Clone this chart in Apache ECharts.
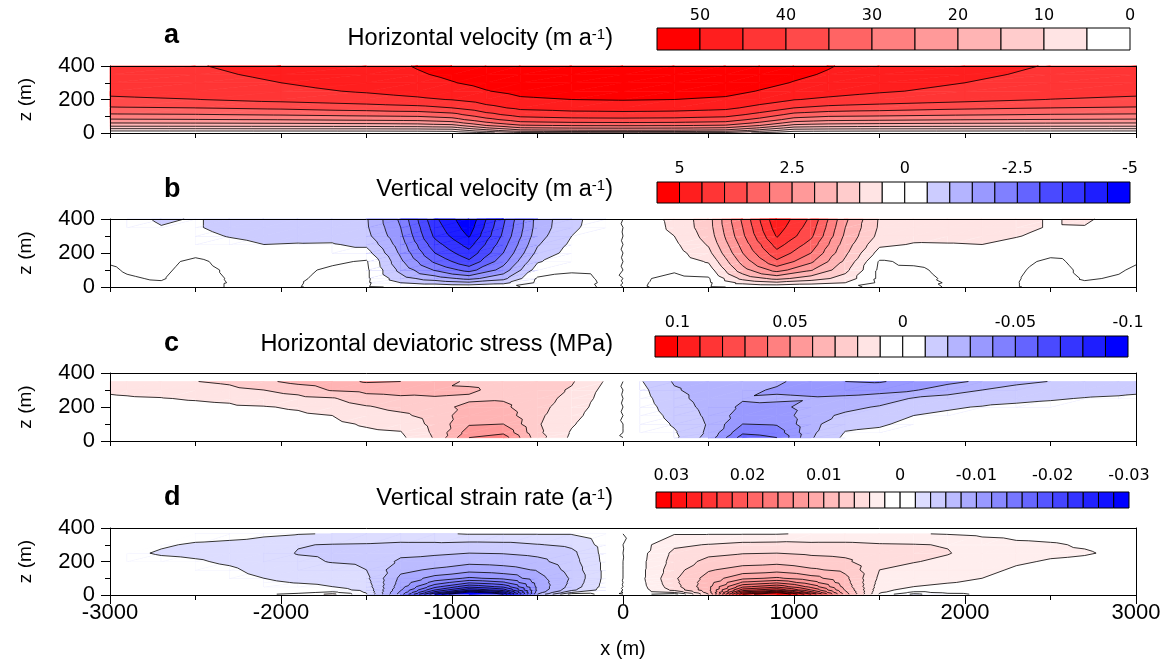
<!DOCTYPE html>
<html>
<head>
<meta charset="utf-8">
<title>Glacier fields</title>
<script src="https://cdn.jsdelivr.net/npm/echarts@6/dist/echarts.min.js"></script>
<style>
  html, body { margin: 0; padding: 0; background: #fff; }
  #main { width: 1171px; height: 666px; }
</style>
</head>
<body>
<div id="main"></div>
<script>
const FONT = '"Liberation Sans", Arial, Helvetica, sans-serif';

// a: horizontal velocity (m a-1), rows are z levels
const xsA = [-3000, -2500, -2000, -1500, -1200, -1000, -800, -600, -300, 0, 300, 600, 800, 1000, 1200, 1500, 2000, 2500, 3000];
const zsA = [0, 5, 15, 30, 45, 60, 80, 110, 150, 200, 250, 300, 350, 400];
const uA = [
  [0, 0, 0, 0, 0, 0, 4, 8, 8.8, 9, 8.8, 8, 4, 0, 0, 0, 0, 0, 0],
  [2.5, 2.5, 2.5, 2.6, 2.7, 3, 7, 11.5, 12.3, 12.5, 12.3, 11.5, 7, 3, 2.7, 2.6, 2.5, 2.5, 2.5],
  [6, 6.1, 6.2, 6.3, 6.5, 7, 13, 18.5, 19.3, 19.5, 19.3, 18.5, 13, 7, 6.5, 6.3, 6.2, 6.1, 6],
  [11.5, 11.6, 11.8, 12, 12.3, 13, 19.5, 24.5, 25.3, 25.5, 25.3, 24.5, 19.5, 13, 12.3, 12, 11.8, 11.6, 11.5],
  [16.5, 16.6, 16.8, 17, 17.5, 18.5, 25, 29.5, 30.3, 30.5, 30.3, 29.5, 25, 18.5, 17.5, 17, 16.8, 16.6, 16.5],
  [20, 20.2, 20.5, 21, 21.5, 23, 29, 33.5, 34.3, 34.5, 34.3, 33.5, 29, 23, 21.5, 21, 20.5, 20.2, 20],
  [24.5, 24.8, 25.2, 26, 26.5, 28, 33.5, 37.5, 38.4, 38.6, 38.4, 37.5, 33.5, 28, 26.5, 26, 25.2, 24.8, 24.5],
  [29.5, 29.8, 30.5, 31.5, 32, 33.5, 38.5, 42, 43, 43.3, 43, 42, 38.5, 33.5, 32, 31.5, 30.5, 29.8, 29.5],
  [34.5, 35, 36, 37.5, 38.5, 40, 43.5, 46, 46.8, 47, 46.8, 46, 43.5, 40, 38.5, 37.5, 36, 35, 34.5],
  [39, 39.9, 41.5, 43, 44.2, 45.2, 47.3, 49.3, 50, 50.3, 50, 49.3, 47.3, 45.2, 44.2, 43, 41.5, 39.9, 39],
  [41.5, 42.5, 43.8, 45.5, 46.8, 48, 49.8, 51.3, 52, 52.2, 52, 51.3, 49.8, 48, 46.8, 45.5, 43.8, 42.5, 41.5],
  [42.5, 43.6, 45, 46.8, 48.5, 49.8, 51.2, 52.4, 53, 53.3, 53, 52.4, 51.2, 49.8, 48.5, 46.8, 45, 43.6, 42.5],
  [43.3, 44.3, 45.7, 47.5, 49.6, 50.8, 52, 53, 53.7, 54, 53.7, 53, 52, 50.8, 49.6, 47.5, 45.7, 44.3, 43.3],
  [43.7, 44.8, 46.2, 48, 50.3, 51.5, 52.5, 53.3, 54, 54.3, 54, 53.3, 52.5, 51.5, 50.3, 48, 46.2, 44.8, 43.7]
];

// b, c, d share one x grid
const xsB = [-3000, -2900, -2700, -2500, -2300, -2100, -1900, -1700, -1500, -1300, -1100, -900, -700, -500, -300, -100,
  100, 300, 500, 700, 900, 1100, 1300, 1500, 1700, 1900, 2100, 2300, 2500, 2700, 2900, 3000];

// b: vertical velocity (m a-1)
const zsB = [0, 25, 50, 100, 150, 200, 250, 300, 350, 400];
const wB = [
  [0.06, 0.04, 0.02, 0.05, -0.01, -0.02, -0.01, 0.05, 0.05, -0.05, -0.05, -0.1, -0.05, 0.05, 0.08, -0.03,
   0.03, -0.08, -0.05, 0.05, 0.1, 0.05, 0.05, -0.05, -0.05, 0.01, 0.02, 0.01, -0.05, -0.02, -0.04, -0.06],
  [0.07, 0.04, 0.02, 0.1, -0.01, -0.03, -0.02, 0.1, 0.08, -0.5, -0.7, -0.9, -0.65, 0.08, 0.12, -0.04,
   0.04, -0.12, -0.08, 0.65, 0.9, 0.7, 0.5, -0.08, -0.1, 0.02, 0.03, 0.01, -0.1, -0.02, -0.04, -0.07],
  [0.06, 0.02, -0.02, 0.12, -0.02, -0.06, -0.05, 0.12, 0.1, -0.8, -1.25, -1.65, -1.15, 0.05, 0.1, -0.05,
   0.05, -0.1, -0.05, 1.15, 1.65, 1.25, 0.8, -0.1, -0.12, 0.05, 0.06, 0.02, -0.12, 0.02, -0.02, -0.06],
  [0.03, -0.02, -0.06, 0.12, -0.05, -0.12, -0.1, 0.08, 0.1, -1.15, -2.05, -2.7, -1.8, -0.25, -0.05, -0.08,
   0.08, 0.05, 0.25, 1.8, 2.7, 2.05, 1.15, -0.1, -0.08, 0.1, 0.12, 0.05, -0.12, 0.06, 0.02, -0.03],
  [-0.02, -0.05, -0.1, 0.08, -0.12, -0.2, -0.18, -0.08, 0.05, -1.4, -2.6, -3.4, -2.2, -0.55, -0.2, -0.1,
   0.1, 0.2, 0.55, 2.2, 3.4, 2.6, 1.4, -0.05, 0.08, 0.18, 0.2, 0.12, -0.08, 0.1, 0.05, 0.02],
  [-0.08, -0.1, -0.15, -0.1, -0.25, -0.32, -0.3, -0.3, -0.3, -1.6, -3.0, -3.85, -2.5, -0.85, -0.3, -0.12,
   0.12, 0.3, 0.85, 2.5, 3.85, 3.0, 1.6, 0.3, 0.3, 0.3, 0.32, 0.25, 0.1, 0.15, 0.1, 0.08],
  [-0.15, -0.15, -0.2, -0.3, -0.4, -0.5, -0.48, -0.47, -0.6, -1.75, -3.3, -4.2, -2.7, -1.05, -0.4, -0.15,
   0.15, 0.4, 1.05, 2.7, 4.2, 3.3, 1.75, 0.6, 0.47, 0.48, 0.5, 0.4, 0.3, 0.2, 0.15, 0.15],
  [-0.2, -0.22, -0.3, -0.4, -0.52, -0.6, -0.6, -0.62, -0.85, -1.9, -3.6, -4.55, -2.9, -1.2, -0.5, -0.18,
   0.18, 0.5, 1.2, 2.9, 4.55, 3.6, 1.9, 0.85, 0.62, 0.6, 0.6, 0.52, 0.4, 0.3, 0.22, 0.2],
  [-0.25, -0.3, -0.48, -0.47, -0.6, -0.65, -0.68, -0.72, -0.93, -2.0, -3.75, -4.75, -3.0, -1.28, -0.6, -0.2,
   0.2, 0.6, 1.28, 3.0, 4.75, 3.75, 2.0, 0.93, 0.72, 0.68, 0.65, 0.6, 0.47, 0.48, 0.3, 0.25],
  [-0.3, -0.35, -0.56, -0.47, -0.6, -0.65, -0.7, -0.75, -0.95, -2.1, -3.9, -4.9, -3.1, -1.3, -0.62, -0.25,
   0.25, 0.62, 1.3, 3.1, 4.9, 3.9, 2.1, 0.95, 0.75, 0.7, 0.65, 0.6, 0.47, 0.56, 0.35, 0.3]
];

// c: horizontal deviatoric stress (MPa)
const zsC = [20, 50, 100, 150, 200, 250, 300, 350];
const sC = [
  [0.002, 0.002, 0.003, 0.0035, 0.004, 0.0045, 0.005, 0.006, 0.007, 0.008, 0.021, 0.05, 0.055, 0.024, 0.008, 0.002,
   -0.002, -0.008, -0.024, -0.055, -0.05, -0.021, -0.008, -0.007, -0.006, -0.005, -0.0045, -0.004, -0.0035, -0.003, -0.002, -0.002],
  [0.003, 0.003, 0.0035, 0.004, 0.0045, 0.005, 0.0055, 0.0065, 0.0085, 0.0095, 0.022, 0.045, 0.048, 0.022, 0.009, 0.003,
   -0.003, -0.009, -0.022, -0.048, -0.045, -0.022, -0.0095, -0.0085, -0.0065, -0.0055, -0.005, -0.0045, -0.004, -0.0035, -0.003, -0.003],
  [0.004, 0.004, 0.0045, 0.005, 0.0055, 0.006, 0.0068, 0.008, 0.011, 0.013, 0.023, 0.039, 0.04, 0.021, 0.011, 0.003,
   -0.003, -0.011, -0.021, -0.04, -0.039, -0.023, -0.013, -0.011, -0.008, -0.0068, -0.006, -0.0055, -0.005, -0.0045, -0.004, -0.004],
  [0.005, 0.0052, 0.006, 0.0065, 0.007, 0.0075, 0.0085, 0.01, 0.015, 0.018, 0.024, 0.036, 0.035, 0.022, 0.013, 0.004,
   -0.004, -0.013, -0.022, -0.035, -0.036, -0.024, -0.018, -0.015, -0.01, -0.0085, -0.0075, -0.007, -0.0065, -0.006, -0.0052, -0.005],
  [0.007, 0.0072, 0.0078, 0.0082, 0.0088, 0.0095, 0.011, 0.014, 0.019, 0.023, 0.026, 0.033, 0.032, 0.023, 0.015, 0.005,
   -0.005, -0.015, -0.023, -0.032, -0.033, -0.026, -0.023, -0.019, -0.014, -0.011, -0.0095, -0.0088, -0.0082, -0.0078, -0.0072, -0.007],
  [0.009, 0.0093, 0.0097, 0.0106, 0.0115, 0.0145, 0.017, 0.019, 0.026, 0.028, 0.029, 0.028, 0.029, 0.024, 0.017, 0.006,
   -0.006, -0.017, -0.024, -0.029, -0.028, -0.029, -0.028, -0.026, -0.019, -0.017, -0.0145, -0.0115, -0.0106, -0.0097, -0.0093, -0.009],
  [0.011, 0.0115, 0.0125, 0.0145, 0.017, 0.02, 0.024, 0.031, 0.033, 0.034, 0.033, 0.032, 0.026, 0.024, 0.019, 0.007,
   -0.007, -0.019, -0.024, -0.026, -0.032, -0.033, -0.034, -0.033, -0.031, -0.024, -0.02, -0.017, -0.0145, -0.0125, -0.0115, -0.011],
  [0.013, 0.014, 0.016, 0.0198, 0.022, 0.028, 0.033, 0.036, 0.041, 0.04, 0.038, 0.027, 0.025, 0.024, 0.021, 0.009,
   -0.009, -0.021, -0.024, -0.025, -0.027, -0.038, -0.04, -0.041, -0.036, -0.033, -0.028, -0.022, -0.0198, -0.016, -0.014, -0.013]
];

// d: vertical strain rate (a-1)
const zsD = [5, 15, 30, 50, 75, 100, 150, 200, 250, 300, 365];
const eD = [
  [-0.0001, -0.0002, -0.0002, -0.0002, -0.0003, -0.0003, 0.0005, 0.0025, -0.0018, -0.011, -0.024, -0.034, -0.028, -0.008, 0.001, -0.0005,
   0.0005, -0.001, 0.008, 0.028, 0.034, 0.024, 0.011, 0.0018, -0.0025, -0.0005, 0.0003, 0.0003, 0.0002, 0.0002, 0.0002, 0.0001],
  [-0.0001, -0.0002, -0.0003, -0.0004, -0.0005, -0.0006, -0.0005, 0.0005, -0.0022, -0.0105, -0.021, -0.029, -0.025, -0.009, -0.002, -0.0008,
   0.0008, 0.002, 0.009, 0.025, 0.029, 0.021, 0.0105, 0.0022, -0.0005, 0.0005, 0.0006, 0.0005, 0.0004, 0.0003, 0.0002, 0.0001],
  [-0.0002, -0.0003, -0.0004, -0.0005, -0.0007, -0.0009, -0.001, -0.0012, -0.0026, -0.0098, -0.018, -0.0235, -0.021, -0.0095, -0.0045, -0.001,
   0.001, 0.0045, 0.0095, 0.021, 0.0235, 0.018, 0.0098, 0.0026, 0.0012, 0.001, 0.0009, 0.0007, 0.0005, 0.0004, 0.0003, 0.0002],
  [-0.0002, -0.0004, -0.0005, -0.0006, -0.0009, -0.0013, -0.0015, -0.002, -0.003, -0.0092, -0.0153, -0.0194, -0.0175, -0.0095, -0.0052, -0.0012,
   0.0012, 0.0052, 0.0095, 0.0175, 0.0194, 0.0153, 0.0092, 0.003, 0.002, 0.0015, 0.0013, 0.0009, 0.0006, 0.0005, 0.0004, 0.0002],
  [-0.0003, -0.0004, -0.0006, -0.0008, -0.0011, -0.0017, -0.0021, -0.0024, -0.0033, -0.0088, -0.0128, -0.0156, -0.0143, -0.0092, -0.0055, -0.0013,
   0.0013, 0.0055, 0.0092, 0.0143, 0.0156, 0.0128, 0.0088, 0.0033, 0.0024, 0.0021, 0.0017, 0.0011, 0.0008, 0.0006, 0.0004, 0.0003],
  [-0.0003, -0.0005, -0.0008, -0.001, -0.0013, -0.002, -0.0025, -0.0028, -0.0036, -0.0085, -0.0108, -0.0123, -0.0115, -0.0088, -0.0057, -0.0014,
   0.0014, 0.0057, 0.0088, 0.0115, 0.0123, 0.0108, 0.0085, 0.0036, 0.0028, 0.0025, 0.002, 0.0013, 0.001, 0.0008, 0.0005, 0.0003],
  [-0.0004, -0.0007, -0.001, -0.0013, -0.0017, -0.0026, -0.0031, -0.0034, -0.004, -0.0075, -0.0083, -0.0092, -0.0088, -0.0078, -0.0052, -0.0014,
   0.0014, 0.0052, 0.0078, 0.0088, 0.0092, 0.0083, 0.0075, 0.004, 0.0034, 0.0031, 0.0026, 0.0017, 0.0013, 0.001, 0.0007, 0.0004],
  [-0.0006, -0.001, -0.0015, -0.0018, -0.0023, -0.003, -0.0036, -0.0041, -0.0043, -0.0064, -0.0068, -0.0074, -0.0072, -0.0066, -0.0048, -0.0014,
   0.0014, 0.0048, 0.0066, 0.0072, 0.0074, 0.0068, 0.0064, 0.0043, 0.0041, 0.0036, 0.003, 0.0023, 0.0018, 0.0015, 0.001, 0.0006],
  [-0.0012, -0.0016, -0.0022, -0.0024, -0.0027, -0.0032, -0.0041, -0.0043, -0.0045, -0.0055, -0.0057, -0.006, -0.0059, -0.0055, -0.0045, -0.0013,
   0.0013, 0.0045, 0.0055, 0.0059, 0.006, 0.0057, 0.0055, 0.0045, 0.0043, 0.0041, 0.0032, 0.0027, 0.0024, 0.0022, 0.0016, 0.0012],
  [-0.001, -0.0013, -0.0018, -0.0022, -0.0024, -0.003, -0.0039, -0.0041, -0.0042, -0.0045, -0.0045, -0.0047, -0.0046, -0.0041, -0.0036, -0.0012,
   0.0012, 0.0036, 0.0041, 0.0046, 0.0047, 0.0045, 0.0045, 0.0042, 0.0041, 0.0039, 0.003, 0.0024, 0.0022, 0.0018, 0.0013, 0.001],
  [-0.0006, -0.0008, -0.0011, -0.0013, -0.0014, -0.0016, -0.0019, -0.0021, -0.0022, -0.0023, -0.0022, -0.0019, -0.0019, -0.0019, -0.0019, -0.0008,
   0.0008, 0.0019, 0.0019, 0.0019, 0.0019, 0.0022, 0.0023, 0.0022, 0.0021, 0.0019, 0.0016, 0.0014, 0.0013, 0.0011, 0.0008, 0.0006]
];

// contour levels (ascending) and band colours (one more than levels)
const levelsA = [5, 10, 15, 20, 25, 30, 35, 40, 45, 50];
const levelsB = [-4.5, -4, -3.5, -3, -2.5, -2, -1.5, -1, -0.5, 0, 0.5, 1, 1.5, 2, 2.5, 3, 3.5, 4, 4.5, 5];
const levelsC = [-0.09, -0.08, -0.07, -0.06, -0.05, -0.04, -0.03, -0.02, -0.01, 0, 0.01, 0.02, 0.03, 0.04, 0.05, 0.06, 0.07, 0.08, 0.09, 0.1];
const levelsD = [-0.028, -0.026, -0.024, -0.022, -0.02, -0.018, -0.016, -0.014, -0.012, -0.01, -0.008, -0.006, -0.004, -0.002, 0,
  0.002, 0.004, 0.006, 0.008, 0.01, 0.012, 0.014, 0.016, 0.018, 0.02, 0.022, 0.024, 0.026, 0.028, 0.03];

const colorsA = ['#ffffff', '#ffe4e4', '#ffcccc', '#ffb4b4', '#ff9999', '#ff8080', '#ff6464', '#ff4a4a', '#ff3535', '#ff1e1e', '#ff0000'];
const colorsBC = ['#0000ff', '#1e1eff', '#3535ff', '#4a4aff', '#6464ff', '#8080ff', '#9999ff', '#b4b4ff', '#ccccff', '#ffffff', '#ffffff',
  '#ffe4e4', '#ffcccc', '#ffb4b4', '#ff9999', '#ff8080', '#ff6464', '#ff4a4a', '#ff3535', '#ff1e1e', '#ff0000'];
const colorsD = ['#0000ff', '#1111ff', '#2222ff', '#3333ff', '#4444ff', '#5555ff', '#6666ff', '#7777ff', '#8888ff', '#9999ff', '#aaaaff',
  '#bbbbff', '#ccccff', '#ddddff', '#ffffff', '#ffffff', '#ffeeee', '#ffdddd', '#ffcccc', '#ffbbbb', '#ffaaaa', '#ff9999', '#ff8888',
  '#ff7777', '#ff6666', '#ff5555', '#ff4444', '#ff3333', '#ff2222', '#ff1111', '#ff0000'];

// colour bar tick labels (at box edges, counted from the left end)
const cbTicksA = [1, 3, 5, 7, 9, 11];
const cbLabelsA = ['50', '40', '30', '20', '10', '0'];
const cbTicksB = [1, 6, 11, 16, 21];
const cbLabelsB = ['5', '2.5', '0', '-2.5', '-5'];
const cbLabelsC = ['0.1', '0.05', '0', '-0.05', '-0.1'];
const cbTicksD = [1, 6, 11, 16, 21, 26, 31];
const cbLabelsD = ['0.03', '0.02', '0.01', '0', '-0.01', '-0.02', '-0.03'];

const panels = [
  { xs: xsA, zs: zsA, v: uA, levels: levelsA, colors: colorsA, top: 66, height: 67,
    letter: 'a', title: '{n|Horizontal velocity (m a}{s|-1}{n|)}', titleTop: 27, letterTop: 22,
    cb: { left: 657, top: 28, height: 22, ticks: cbTicksA, labels: cbLabelsA, margin: 4 } },
  { xs: xsB, zs: zsB, v: wB, levels: levelsB, colors: colorsBC, top: 219, height: 68,
    letter: 'b', title: '{n|Vertical velocity (m a}{s|-1}{n|)}', titleTop: 178, letterTop: 176,
    cb: { left: 657, top: 182, height: 21, ticks: cbTicksB, labels: cbLabelsB, margin: 5 } },
  { xs: xsB, zs: zsC, v: sC, levels: levelsC, colors: colorsBC, top: 373, height: 68,
    letter: 'c', title: '{n|Horizontal deviatoric stress (MPa)}', titleTop: 333, letterTop: 330,
    cb: { left: 655, top: 336, height: 21, ticks: cbTicksB, labels: cbLabelsC, margin: 5 } },
  { xs: xsB, zs: zsD, v: eD, levels: levelsD, colors: colorsD, top: 528, height: 67,
    letter: 'd', title: '{n|Vertical strain rate (a}{s|-1}{n|)}', titleTop: 487, letterTop: 484,
    cb: { left: 656, top: 492, height: 16, ticks: cbTicksD, labels: cbLabelsD, margin: 8 } }
];

function band(levels, v) {
  let k = 0;
  while (k < levels.length && v >= levels[k]) k++;
  return k;
}

// part of a polygon where value >= t (values vary linearly along edges)
function clipAbove(pts, t) {
  const out = [];
  for (let k = 0; k < pts.length; k++) {
    const a = pts[k], b = pts[(k + 1) % pts.length];
    const ain = a[2] >= t, bin = b[2] >= t;
    if (ain) out.push(a);
    if (ain !== bin) {
      const f = (t - a[2]) / (b[2] - a[2]);
      out.push([a[0] + f * (b[0] - a[0]), a[1] + f * (b[1] - a[1]), t]);
    }
  }
  return out;
}

function poly(pts, col) {
  return {
    type: 'polygon',
    shape: { points: pts.map(q => [q[0], q[1]]) },
    style: { fill: col, stroke: col, lineWidth: 0.7 }
  };
}

function cellTriangles(p, api) {
  const i = api.value(2), j = api.value(3);
  const corner = (ii, jj) => {
    const c = api.coord([p.xs[ii], p.zs[jj]]);
    return [c[0], c[1], p.v[jj][ii]];
  };
  const a = corner(i, j), b = corner(i + 1, j), c = corner(i + 1, j + 1), d = corner(i, j + 1);
  return [[a, b, c], [a, c, d]];
}

function fillItem(p) {
  return function (params, api) {
    const children = [];
    cellTriangles(p, api).forEach(tri => {
      const vals = tri.map(q => q[2]);
      const lo = Math.min.apply(null, vals), hi = Math.max.apply(null, vals);
      let k = band(p.levels, lo);
      children.push(poly(tri, p.colors[k]));
      for (; k < p.levels.length && p.levels[k] <= hi; k++) {
        const part = clipAbove(tri, p.levels[k]);
        if (part.length > 2) children.push(poly(part, p.colors[k + 1]));
      }
    });
    return { type: 'group', children: children };
  };
}

function lineItem(p) {
  return function (params, api) {
    const children = [];
    cellTriangles(p, api).forEach(tri => {
      p.levels.forEach(t => {
        const pts = [];
        for (let k = 0; k < 3; k++) {
          const m = tri[k], n = tri[(k + 1) % 3];
          if ((m[2] >= t) !== (n[2] >= t)) {
            const f = (t - m[2]) / (n[2] - m[2]);
            pts.push([m[0] + f * (n[0] - m[0]), m[1] + f * (n[1] - m[1])]);
          }
        }
        if (pts.length === 2) {
          children.push({
            type: 'line',
            shape: { x1: pts[0][0], y1: pts[0][1], x2: pts[1][0], y2: pts[1][1] },
            style: { stroke: '#000', lineWidth: 0.8 }
          });
        }
      });
    });
    return { type: 'group', children: children };
  };
}

function barItem(cols) {
  return function (params, api) {
    const k = api.value(2);
    const p0 = api.coord([k, 1]), p1 = api.coord([k + 1, 0]);
    return {
      type: 'rect',
      shape: { x: p0[0], y: p0[1], width: p1[0] - p0[0], height: p1[1] - p0[1] },
      style: { fill: cols[k], stroke: '#000', lineWidth: 1 }
    };
  };
}

function cells(p) {
  const out = [];
  for (let j = 0; j < p.zs.length - 1; j++)
    for (let i = 0; i < p.xs.length - 1; i++)
      out.push([(p.xs[i] + p.xs[i + 1]) / 2, (p.zs[j] + p.zs[j + 1]) / 2, i, j]);
  return out;
}

const grid = [], xAxis = [], yAxis = [], series = [], title = [];
const axisLine = { show: true, onZero: false, lineStyle: { color: '#000', width: 1 } };

panels.forEach((p, k) => {
  grid[k] = { left: 110, top: p.top, width: 1026, height: p.height };
  grid[4 + k] = { left: p.cb.left, top: p.cb.top, width: 473, height: p.cb.height };
  const last = k === panels.length - 1;
  xAxis[k] = {
    type: 'value', gridIndex: k, min: -3000, max: 3000, interval: last ? 1000 : 500, z: 10,
    axisLine: axisLine,
    axisTick: { show: true, inside: false, length: last ? 9 : 5, lineStyle: { color: '#000' } },
    minorTick: { show: last, splitNumber: 2, length: 5, lineStyle: { color: '#000' } },
    axisLabel: { show: last, fontSize: 22, color: '#000', fontFamily: FONT, margin: 7, formatter: v => String(v) },
    splitLine: { show: false },
    name: last ? 'x (m)' : '', nameLocation: 'middle', nameGap: 44,
    nameTextStyle: { fontSize: 20, color: '#000', fontFamily: FONT }
  };
  xAxis[4 + k] = {
    type: 'value', gridIndex: k, min: -3000, max: 3000, position: 'top', z: 10,
    axisLine: axisLine, axisTick: { show: false }, axisLabel: { show: false }, splitLine: { show: false }
  };
  yAxis[k] = {
    type: 'value', gridIndex: k, min: 0, max: 400, interval: 200, z: 10,
    axisLine: axisLine,
    axisTick: { show: true, length: 9, lineStyle: { color: '#000' } },
    minorTick: { show: true, splitNumber: 2, length: 5, lineStyle: { color: '#000' } },
    axisLabel: { fontSize: 22, color: '#000', fontFamily: FONT, margin: 15 },
    splitLine: { show: false },
    name: 'z (m)', nameLocation: 'middle', nameGap: 75,
    nameTextStyle: { fontSize: 19, color: '#000', fontFamily: FONT }
  };
  yAxis[4 + k] = {
    type: 'value', gridIndex: k, min: 0, max: 400, position: 'right', z: 10,
    axisLine: axisLine, axisTick: { show: false }, axisLabel: { show: false }, splitLine: { show: false }
  };

  series.push({
    type: 'custom', xAxisIndex: k, yAxisIndex: k, z: 1, silent: true,
    renderItem: fillItem(p), encode: { x: 0, y: 1 }, data: cells(p)
  });
  series.push({
    type: 'custom', xAxisIndex: k, yAxisIndex: k, z: 3, silent: true,
    renderItem: lineItem(p), encode: { x: 0, y: 1 }, data: cells(p)
  });

  // colour bar
  const cbCols = p.colors.slice().reverse();
  const n = cbCols.length;
  xAxis[8 + k] = {
    type: 'value', gridIndex: 4 + k, min: 0, max: n, interval: 1, position: 'top',
    axisLine: { show: false }, axisTick: { show: false }, splitLine: { show: false },
    axisLabel: {
      show: true, showMinLabel: true, showMaxLabel: true, margin: p.cb.margin,
      fontSize: 16, color: '#000', fontFamily: '"DejaVu Sans", sans-serif',
      formatter: function (val) {
        const idx = p.cb.ticks.indexOf(Math.round(val));
        return idx >= 0 ? p.cb.labels[idx] : '';
      }
    }
  };
  yAxis[8 + k] = { type: 'value', gridIndex: 4 + k, min: 0, max: 1, show: false };
  series.push({
    type: 'custom', xAxisIndex: 8 + k, yAxisIndex: 8 + k, silent: true,
    renderItem: barItem(cbCols), encode: { x: 0, y: 1 },
    data: cbCols.map((c, i) => [i + 0.5, 0.5, i])
  });

  title.push({
    text: p.letter, left: 164, top: p.letterTop, padding: 0,
    textStyle: { fontSize: 27, fontWeight: 'bold', color: '#000', fontFamily: FONT, lineHeight: 27 }
  });
  title.push({
    text: p.title, right: 558, top: p.titleTop, padding: 0,
    textStyle: {
      fontFamily: FONT, fontWeight: 'normal',
      rich: {
        n: { fontSize: 23.5, color: '#000', fontFamily: FONT, fontWeight: 'normal', lineHeight: 24 },
        s: { fontSize: 15, color: '#000', fontFamily: FONT, fontWeight: 'normal', lineHeight: 24, verticalAlign: 'top', padding: [0, 0, 7, 0] }
      }
    }
  });
});

const chart = echarts.init(document.getElementById('main'), null, { renderer: 'canvas' });
chart.setOption({
  animation: false,
  backgroundColor: '#fff',
  textStyle: { fontFamily: FONT },
  title: title,
  grid: grid,
  xAxis: xAxis,
  yAxis: yAxis,
  series: series
});
</script>
</body>
</html>
